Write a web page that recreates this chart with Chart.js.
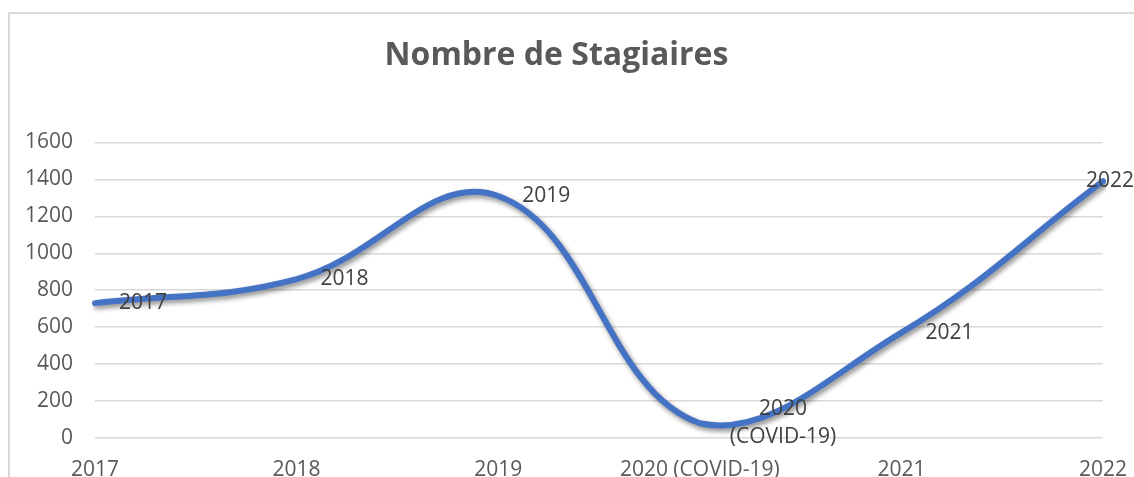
<!DOCTYPE html>
<html>
<head>
<meta charset="utf-8">
<script src="https://cdn.jsdelivr.net/npm/chart.js@4/dist/chart.umd.min.js"></script>
<style>
  html, body { margin: 0; padding: 0; background: #ffffff; }
  #wrap { width: 1134px; height: 477px; position: relative; }
</style>
</head>
<body>
<div id="wrap"><canvas id="c" width="1134" height="477"></canvas></div>
<script>
// ---- Data ----
const categories = ['2017', '2018', '2019', '2020 (COVID-19)', '2021', '2022'];
const stagiaires = [730, 860, 1310, 80, 570, 1390];
const pointLabels = ['2017', '2018', '2019', ['2020', '(COVID-19)'], '2021', '2022'];
const yTicks = [0, 200, 400, 600, 800, 1000, 1200, 1400, 1600];
const chartTitle = 'Nombre de Stagiaires';

const FONT = "'Open Sans', 'Liberation Sans', sans-serif";

const framePlugin = {
  id: 'frame',
  beforeDraw(chart) {
    const ctx = chart.ctx;
    ctx.save();
    ctx.fillStyle = '#ffffff';
    ctx.fillRect(0, 0, chart.width, chart.height);
    ctx.strokeStyle = '#d9d9d9';
    ctx.lineWidth = 2;
    ctx.beginPath();
    ctx.moveTo(9, chart.height);
    ctx.lineTo(9, 13);
    ctx.lineTo(chart.width, 13);
    ctx.stroke();
    ctx.restore();
  }
};

const shadowPlugin = {
  id: 'lineShadow',
  beforeDatasetDraw(chart) {
    const ctx = chart.ctx;
    ctx.save();
    ctx.shadowColor = 'rgba(0,0,0,0.45)';
    ctx.shadowBlur = 5;
    ctx.shadowOffsetX = 2;
    ctx.shadowOffsetY = 3;
  },
  afterDatasetDraw(chart) {
    chart.ctx.restore();
  }
};

const labelPlugin = {
  id: 'pointLabels',
  afterDatasetsDraw(chart) {
    const ctx = chart.ctx;
    const meta = chart.getDatasetMeta(0);
    ctx.save();
    ctx.font = '21px ' + FONT;
    ctx.fillStyle = '#404040';
    ctx.textBaseline = 'middle';
    ctx.textAlign = 'center';
    const lineH = 28;
    meta.data.forEach((pt, i) => {
      const lab = pointLabels[i];
      const lines = Array.isArray(lab) ? lab : [lab];
      const w = Math.max(...lines.map(l => ctx.measureText(l).width));
      let left = pt.x + (lines.length > 1 ? 30 : 24);
      if (left + w > chart.width) left = chart.width - w;
      const cx = left + w / 2;
      const startY = pt.y - (lines.length - 1) * lineH / 2;
      lines.forEach((l, j) => ctx.fillText(l, cx, startY + j * lineH));
    });
    ctx.restore();
  }
};

new Chart(document.getElementById('c'), {
  type: 'line',
  data: {
    labels: categories,
    datasets: [{
      label: chartTitle,
      data: stagiaires,
      borderColor: '#4472C4',
      borderWidth: 6,
      tension: 0.4,
      pointRadius: 0,
      fill: false,
      borderCapStyle: 'round',
      borderJoinStyle: 'round'
    }]
  },
  options: {
    responsive: false,
    animation: false,
    layout: { padding: { left: 10, right: 31, top: 0, bottom: 0 } },
    plugins: {
      legend: { display: false },
      tooltip: { enabled: false },
      title: {
        display: true,
        text: chartTitle,
        color: '#595959',
        font: { family: FONT, size: 32, weight: 'bold' },
        padding: { top: 37, bottom: 67 }
      }
    },
    scales: {
      x: {
        type: 'category',
        offset: false,
        grid: { display: false, drawTicks: false },
        border: { display: false },
        ticks: {
          color: '#595959',
          font: { family: FONT, size: 21 },
          padding: 19,
          maxRotation: 0,
          autoSkip: false
        },
        afterFit(scale) {
          scale.height = 39;
          scale.paddingLeft = 0;
          scale.paddingRight = 0;
        }
      },
      y: {
        min: 0,
        max: 1600,
        afterBuildTicks(scale) { scale.ticks = yTicks.map(v => ({ value: v })); },
        grid: { color: '#d9d9d9', lineWidth: 1.5, drawTicks: false },
        border: { display: false },
        ticks: {
          color: '#595959',
          font: { family: FONT, size: 21 },
          padding: 22,
          callback: (v) => String(v)
        },
        afterFit(scale) { scale.width = 85; }
      }
    }
  },
  plugins: [framePlugin, shadowPlugin, labelPlugin]
});
</script>
</body>
</html>
